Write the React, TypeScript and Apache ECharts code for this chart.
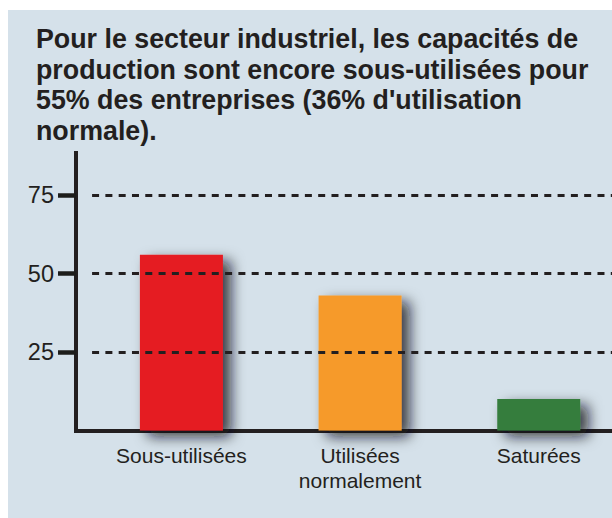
import React, { useEffect, useRef } from "react";
import * as echarts from "echarts";

const titleLines = [
  "Pour le secteur industriel, les capacités de",
  "production sont encore sous-utilisées pour",
  "55% des entreprises (36% d'utilisation",
  "normale).",
];
const categories = ["Sous-utilisées", "Utilisées\nnormalement", "Saturées"];
const values = [56, 43, 10];
const barColors = ["#e51b24", "#f69a29", "#347d3e"];
const yTicks = [25, 50, 75];

const FONT = "'Liberation Sans', Arial, Helvetica, sans-serif";
const INK = "#231f20";

// x extent: category bands of width 1 centred on 0,1,2; the frame is cropped
const X_MIN = -0.59;
const X_MAX = 2.41;
const Y_MAX = 88.4;

export default function App() {
  const ref = useRef<HTMLDivElement>(null);
  useEffect(() => {
    document.body.style.margin = "0";
    const chart = echarts.init(ref.current!, null, { renderer: "svg" });
    chart.setOption({
      animation: false,
      backgroundColor: "#ffffff",
      graphic: [
        {
          type: "rect",
          silent: true,
          z: -10,
          shape: { x: 8, y: 10, width: 604, height: 508 },
          style: { fill: "#d5e1ea" },
        },
      ],
      title: {
        text: titleLines.join("\n"),
        left: 36,
        top: 24,
        padding: 0,
        textStyle: {
          fontFamily: FONT,
          fontSize: 26.8,
          fontWeight: "bold",
          color: INK,
          lineHeight: 30.5,
        },
      },
      grid: { left: 76, right: 0, top: 153, bottom: 87.5 },
      xAxis: {
        type: "value",
        min: X_MIN,
        max: X_MAX,
        axisLine: {
          show: true,
          onZero: false,
          lineStyle: { color: INK, width: 4, cap: "square" },
        },
        axisTick: { show: false },
        splitLine: { show: false },
        axisLabel: {
          customValues: categories.map((_, i) => i),
          formatter: (v: number) => categories[Math.round(v)] ?? "",
          hideOverlap: false,
          margin: 12,
          fontFamily: FONT,
          fontSize: 21,
          lineHeight: 25,
          color: INK,
        },
      },
      yAxis: {
        type: "value",
        min: 0,
        max: Y_MAX,
        interval: 25,
        axisLine: {
          show: true,
          onZero: false,
          lineStyle: { color: INK, width: 4, cap: "square" },
        },
        axisTick: {
          show: true,
          customValues: yTicks,
          length: 18,
          lineStyle: { color: "#1d1d1b", width: 4.5 },
        },
        axisLabel: {
          customValues: yTicks,
          margin: 22,
          fontFamily: FONT,
          fontSize: 23.5,
          color: INK,
        },
        splitLine: { show: false },
      },
      series: [
        {
          type: "bar",
          barWidth: 83,
          data: values.map((v, i) => ({
            value: [i, v],
            itemStyle: { color: barColors[i] },
          })),
          itemStyle: {
            shadowColor: "rgba(15,15,25,0.8)",
            shadowBlur: 14,
            shadowOffsetX: 8,
            shadowOffsetY: 6,
          },
          markLine: {
            silent: true,
            symbol: "none",
            label: { show: false },
            lineStyle: {
              color: INK,
              width: 3,
              type: [7, 6.3],
            },
            data: yTicks.map((v) => [
              { coord: [-0.5, v] },
              { coord: [X_MAX, v] },
            ]),
          },
          z: 3,
        },
      ],
    });
    return () => chart.dispose();
  }, []);
  return <div ref={ref} style={{ width: 612, height: 518 }} />;
}
